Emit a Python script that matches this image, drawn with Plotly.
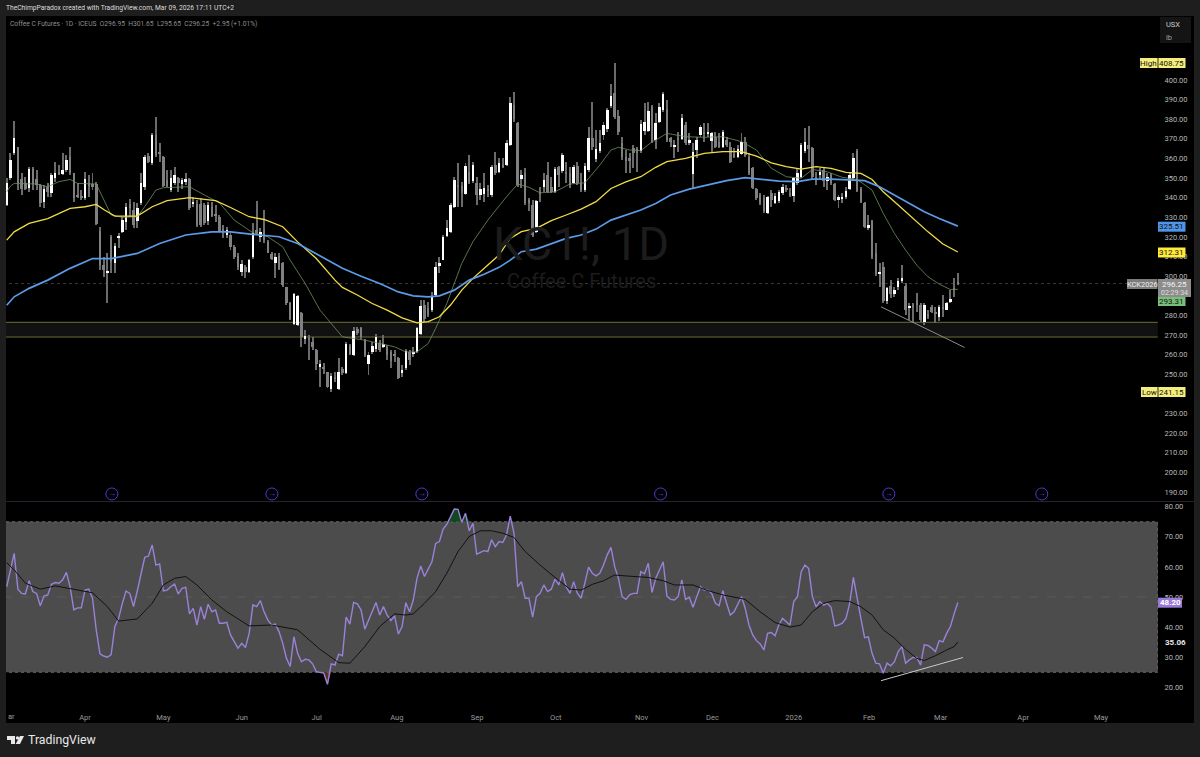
import plotly.graph_objects as go

W, H = 1200, 757

open_ = [336.3,350.2,362.6,365.7,349.5,347.6,345.1,354.4,349.3,346.5,
337.9,345.3,342.5,349.8,353.1,352.1,354.1,360.6,352.4,341.4,
340.9,340.0,347.0,347.0,347.0,323.2,305.6,301.7,319.8,306.8,
319.3,322.6,327.7,336.6,333.7,328.3,337.1,345.3,361.4,357.8,
371.9,362.9,360.6,349.0,343.9,347.3,349.9,347.0,348.5,349.5,
336.6,336.6,336.6,336.3,328.1,335.4,331.7,330.3,324.0,320.9,
320.9,314.7,310.2,301.9,304.8,302.2,309.9,323.5,319.8,323.5,
317.5,311.3,306.8,310.4,306.8,294.3,286.4,275.6,275.0,281.0,
268.1,268.6,266.6,262.3,253.5,253.9,251.0,242.3,248.7,242.3,
252.5,250.5,264.4,259.8,272.9,273.6,267.1,255.2,261.5,262.7,
266.1,263.7,264.0,261.5,260.6,258.1,250.8,253.0,261.5,260.8,
261.5,270.5,285.2,283.6,283.0,290.4,305.3,308.5,320.6,322.7,
335.4,346.3,345.9,341.9,353.2,348.7,347.6,341.4,341.9,344.6,
341.4,356.6,353.2,356.8,356.6,366.8,387.2,377.9,349.5,352.4,
338.8,336.2,322.7,343.0,345.6,351.6,345.6,343.0,355.8,353.8,
353.2,352.4,347.6,356.1,347.6,343.9,354.1,370.2,359.5,364.0,
372.0,374.8,386.7,393.5,381.6,367.7,360.9,360.0,365.1,364.6,
364.0,374.2,374.2,386.4,369.4,378.4,384.7,385.0,370.3,365.7,
370.6,369.7,377.0,368.0,352.0,364.3,372.0,373.7,372.8,369.0,
371.1,368.6,366.0,369.4,366.0,362.3,360.9,362.3,368.6,360.9,
355.0,344.2,341.4,339.7,332.3,342.5,337.4,338.3,342.2,345.0,
342.2,340.8,347.3,350.4,364.0,366.9,365.2,350.4,351.6,354.1,
348.7,351.6,346.8,338.8,339.5,340.2,344.2,349.9,364.0,344.2,
337.1,324.4,328.3,312.0,301.1,304.8,287.5,295.1,290.7,294.6,
298.0,295.1,283.6,285.2,287.8,285.2,276.7,280.5,284.1,281.9,
279.3,284.4,283.0,286.6,294.0,296.95]

high = [349.9,362.9,379.3,365.7,352.4,350.7,355.5,355.8,354.1,347.0,
346.4,347.3,352.4,358.4,356.6,362.6,361.8,365.7,352.4,347.3,
343.9,353.2,351.5,352.4,348.2,325.2,309.9,311.6,320.9,316.7,
322.1,330.3,337.1,339.1,338.0,337.1,352.4,361.8,362.6,372.8,
381.0,367.7,361.2,354.1,354.1,355.8,350.7,349.9,352.4,349.9,
340.2,338.8,339.7,337.1,338.0,338.0,336.3,331.2,326.1,325.2,
321.8,315.9,311.6,308.2,305.6,309.0,326.9,338.5,324.4,333.7,
318.4,312.5,311.6,311.6,307.4,294.6,286.9,291.5,290.4,281.9,
272.5,269.9,269.1,263.1,257.2,256.0,251.3,250.5,251.0,258.1,
253.9,266.5,265.7,273.9,273.9,274.2,267.8,261.5,266.6,270.5,
267.5,270.0,264.9,262.4,262.4,258.9,254.7,262.7,262.4,264.0,
274.2,287.8,288.1,287.0,292.0,307.4,309.9,321.0,328.6,337.1,
350.7,357.5,348.1,357.5,361.7,358.4,350.7,347.3,352.4,346.4,
356.6,363.4,360.0,360.0,369.4,391.5,394.0,378.8,354.1,354.9,
339.7,338.8,338.8,345.6,352.4,358.4,350.7,355.5,356.1,362.6,
358.4,355.8,356.6,358.4,352.4,357.5,376.2,389.0,374.5,374.5,
378.8,385.6,398.0,408.75,384.7,371.0,364.3,362.6,366.9,366.0,
379.6,388.1,389.0,387.2,383.0,388.1,394.0,389.8,371.1,369.4,
373.6,382.7,378.8,372.8,367.7,371.1,377.0,377.9,377.9,373.6,
373.6,372.8,374.5,371.1,368.6,365.2,366.9,372.8,371.1,362.6,
355.5,344.8,342.2,341.4,340.8,343.9,342.2,343.9,347.0,346.4,
344.8,350.7,355.0,367.7,375.4,376.5,365.7,353.2,355.0,355.5,
352.4,352.4,347.3,341.4,342.2,345.6,353.2,362.6,364.6,345.6,
338.0,331.2,328.9,316.7,306.5,307.4,294.6,298.0,294.6,298.9,
305.6,296.3,286.1,286.1,291.2,286.1,286.1,283.0,285.2,284.4,
285.2,290.4,287.0,292.9,299.0,301.65]

low = [336.0,349.0,361.8,343.9,341.4,343.9,343.0,343.9,343.9,335.4,
334.6,340.5,340.5,348.2,351.5,351.5,353.3,351.5,337.9,339.7,
338.8,338.8,340.5,343.9,326.1,303.4,299.7,286.1,301.4,301.4,
314.2,322.1,323.5,330.3,324.4,324.4,336.3,343.9,357.5,356.6,
360.9,358.4,345.3,345.3,343.0,346.4,343.0,344.7,346.4,333.7,
335.4,325.2,325.2,326.1,326.1,330.0,327.7,322.7,319.3,319.3,
313.3,309.0,303.1,300.2,298.9,301.4,309.0,320.9,317.5,316.7,
311.6,308.2,298.9,303.1,294.6,285.2,277.6,275.0,274.5,264.0,
265.7,257.2,262.3,252.1,243.6,250.4,242.8,241.15,246.0,242.0,
249.6,250.0,259.8,259.4,270.0,268.0,258.9,249.6,260.6,261.5,
261.5,263.2,257.3,253.0,256.4,247.4,248.7,252.1,254.7,259.0,
261.0,270.0,276.7,279.3,281.9,289.5,301.4,308.2,320.1,322.1,
334.6,335.4,335.4,341.4,347.0,347.6,336.2,338.8,338.0,340.5,
340.5,351.5,352.4,355.0,356.1,366.3,378.8,345.6,344.8,336.2,
333.0,320.1,322.1,338.0,343.0,342.2,342.2,342.5,345.6,352.4,
347.3,344.8,346.9,346.4,343.0,343.0,353.2,364.3,358.4,362.6,
369.4,373.6,385.6,380.0,372.0,359.2,352.4,352.4,355.0,353.2,
362.6,372.0,373.6,367.7,364.6,377.9,383.9,368.6,366.0,360.0,
363.4,369.4,366.9,366.9,344.8,360.0,371.1,368.6,371.1,363.4,
365.2,365.2,365.2,366.0,357.5,360.0,360.0,361.8,360.9,351.5,
344.2,338.8,336.2,332.3,331.6,335.4,336.8,337.1,341.3,343.0,
340.5,338.0,346.4,349.9,362.6,358.4,349.3,346.4,349.0,345.6,
343.9,346.4,338.5,334.6,337.1,339.1,343.9,349.0,343.0,337.1,
324.4,323.8,309.0,300.1,294.6,286.1,285.8,288.7,289.5,292.9,
296.3,280.2,277.6,275.9,281.9,276.7,275.0,278.0,281.0,275.9,
277.3,279.3,282.7,286.1,289.5,295.65]

close = [347.6,359.2,370.6,347.6,344.7,344.7,354.4,347.0,346.5,337.4,
344.2,343.0,351.5,352.7,352.1,354.1,359.2,352.4,339.7,340.5,
340.2,349.5,345.9,345.6,326.4,305.6,303.1,302.4,307.4,315.3,
320.4,328.6,335.4,334.6,326.1,334.6,347.3,360.6,358.0,371.9,
361.7,362.3,345.9,345.9,349.9,351.5,347.3,349.0,349.5,334.6,
337.9,326.1,326.1,326.9,336.3,330.6,330.8,323.2,322.6,323.5,
314.7,309.9,304.5,306.2,301.9,308.2,322.1,321.8,322.6,318.4,
311.9,309.0,309.9,303.9,295.4,286.4,278.4,290.9,289.8,269.1,
269.4,267.4,263.7,255.2,255.2,253.1,243.6,249.3,248.1,251.3,
250.5,265.4,260.6,272.2,270.9,268.8,259.8,259.8,264.6,268.8,
262.4,265.4,259.8,256.9,259.6,247.9,252.1,262.0,257.3,261.5,
273.4,284.7,278.4,280.2,289.5,304.8,306.8,319.8,324.4,336.2,
349.0,345.6,342.2,356.1,348.1,356.6,341.4,344.2,344.8,343.9,
355.8,352.4,357.5,356.1,367.7,388.4,379.9,346.4,351.5,337.1,
337.4,321.0,338.5,342.2,349.0,343.0,343.0,354.4,351.6,361.8,
352.0,346.4,355.8,347.3,343.9,356.1,370.2,365.7,364.6,368.0,
377.0,384.7,391.8,381.0,373.6,360.9,358.9,359.2,362.6,362.9,
377.6,378.8,384.4,368.5,378.2,386.0,392.9,369.4,368.6,366.9,
369.4,380.5,367.7,369.4,363.4,369.4,376.2,372.8,373.7,372.8,
365.7,366.0,373.3,366.8,358.4,360.9,364.6,368.6,361.8,352.7,
344.8,339.7,337.1,333.4,340.2,338.8,340.8,343.0,345.3,344.2,
341.5,349.9,352.4,366.9,368.2,364.6,350.4,349.3,353.2,348.7,
350.4,347.6,338.8,340.2,340.5,343.6,351.6,360.0,343.6,338.0,
324.9,326.1,309.6,301.1,302.2,287.5,293.8,290.7,292.9,297.5,
298.9,282.7,284.7,284.4,285.2,277.6,285.2,279.7,281.9,281.0,
284.4,283.6,286.1,288.6,293.3,296.25]

rsi = [53.4,59.0,64.5,52.6,51.2,51.0,55.4,51.8,51.2,47.1,
50.3,50.7,54.2,54.8,54.6,55.7,58.2,53.4,45.7,46.4,
46.4,52.3,52.6,49.6,39.1,31.1,30.4,30.0,30.9,40.2,
42.9,47.9,52.0,51.2,46.8,52.0,57.9,63.2,63.6,67.3,
60.6,61.0,52.0,52.3,53.4,54.3,51.0,52.9,53.2,44.4,
46.2,40.7,46.8,42.6,47.6,45.1,45.7,41.3,41.3,41.6,
37.4,35.2,33.0,34.6,33.2,37.9,47.4,46.8,48.8,45.1,
42.4,40.7,41.0,38.5,34.6,29.6,26.9,36.8,31.3,28.5,
29.3,29.1,27.8,25.2,24.9,24.7,21.0,27.8,27.4,31.0,
30.5,43.3,41.0,48.2,47.7,45.7,39.3,42.4,45.5,48.2,
44.0,46.8,44.0,42.2,43.7,37.7,40.2,48.1,45.1,49.0,
56.2,60.3,56.8,59.0,61.7,67.8,68.4,72.6,74.1,76.7,
79.2,79.1,74.8,77.8,72.0,74.5,64.2,64.8,65.4,65.1,
69.0,66.7,68.4,68.1,70.6,76.9,71.2,53.4,55.1,49.6,
49.6,43.3,50.1,51.2,54.0,51.8,52.6,55.9,54.0,58.1,
53.4,51.2,55.1,51.2,49.6,54.6,59.9,57.9,57.0,57.9,
60.6,64.0,66.5,60.1,56.2,50.1,49.2,50.7,51.2,51.2,
58.4,57.7,61.2,51.5,56.2,59.0,61.7,50.3,49.2,49.0,
50.1,55.7,49.2,49.9,46.6,50.1,53.4,52.3,52.3,51.2,
47.9,47.1,52.1,47.9,44.0,45.1,47.4,50.1,46.2,40.7,
37.4,35.5,34.4,32.4,37.9,38.2,37.1,40.7,42.9,41.8,
40.7,48.5,50.1,58.4,60.6,59.5,50.1,46.8,48.5,47.3,
47.9,46.6,40.4,40.7,41.3,42.9,47.9,56.5,49.0,42.9,
36.5,36.8,31.3,28.0,27.8,24.7,28.0,27.1,28.5,31.9,
33.5,28.0,29.1,29.9,29.9,27.4,34.1,33.9,33.0,31.9,
35.5,35.1,37.9,40.2,44.4,48.2]

rsi_ma_x = [0,2,5,9,13,17,23,27,30,35,39,42,45,48,51,55,59,65,71,78,84,89,92,96,100,104,
107,109,112,115,118,121,124,127,130,133,136,139,143,147,151,154,157,160,163,166,172,176,179,184,188,192,196,198,202,206,210,213,
216,219,222,226,229,232,235,238,241,244,246,249,252,254,255]
rsi_ma = [61.4,59.0,54.6,52.6,53.7,52.8,51.4,46.8,42.0,42.7,47.9,54.0,56.2,56.8,54.0,49.0,45.1,40.4,40.7,39.1,32.6,28.2,28.0,33.5,40.2,44.4,
44.0,44.4,47.9,51.8,57.9,65.1,70.1,72.0,72.0,71.2,69.8,65.1,60.6,56.5,52.6,52.3,54.2,55.4,57.3,57.0,56.5,55.4,54.0,54.0,52.1,50.7,49.6,49.2,45.1,41.5,40.0,40.7,
45.1,47.9,48.8,48.5,46.8,44.0,39.1,36.3,32.6,29.6,28.9,30.5,32.4,33.5,35.06]

blue_x = [0,2,6,11,17,23,28,35,41,48,55,60,66,73,78,84,90,95,100,105,109,113,116,120,124,128,132,135,138,142,146,150,154,158,162,166,170,174,
178,183,188,193,198,202,207,212,216,221,226,230,234,238,242,246,250,253,255]
blue_ma = [285.2,289.5,293.8,298.0,304.0,309.0,309.0,311.6,316.7,321.0,322.6,322.6,321.3,320.1,316.7,310.2,304.0,300.0,296.3,292.0,290.0,289.5,290.0,292.9,298.0,301.0,304.5,308.2,312.5,313.8,316.4,319.3,321.0,324.0,328.6,331.2,333.7,337.0,
341.4,344.4,346.4,348.7,350.2,349.3,348.5,348.2,349.5,349.5,349.0,348.7,345.6,341.4,337.1,332.8,329.4,326.9,325.51]

yellow_x = [0,2,6,11,17,21,24,26,29,35,39,43,49,56,60,65,69,74,78,83,88,90,94,98,102,106,110,113,116,119,122,125,129,132,135,138,142,146,150,154,158,162,166,170,174,
177,182,187,192,197,201,205,209,213,217,221,225,229,232,235,239,243,247,251,255]
yellow_ma = [318.4,322.6,326.9,329.4,334.6,335.4,336.6,334.0,330.6,330.6,335.4,338.5,340.0,338.5,335.0,330.3,328.9,325.2,317.5,309.0,298.0,294.3,290.4,286.1,282.7,278.8,276.2,276.8,279.3,285.3,292.9,298.9,305.7,310.8,319.3,322.7,324.4,328.3,331.2,334.2,338.0,344.7,348.1,350.7,355.5,
358.4,360.0,362.6,363.5,363.5,361.2,357.8,355.8,354.6,355.8,355.0,352.9,352.4,349.3,343.0,336.3,329.4,322.6,316.4,312.31]

green_x = [0,1,2,5,8,11,14,17,19,24,26,28,31,35,37,40,42,49,53,57,61,66,70,74,76,80,84,88,90,96,104,107,110,113,115,118,120,122,125,129,134,137,140,143,147,151,155,159,162,164,167,170,173,
174,177,182,187,192,197,201,205,209,213,216,220,224,228,232,235,238,241,244,247,250,253,255]
green_ma = [343.0,345.9,347.3,347.0,347.0,345.6,348.2,349.3,347.3,347.0,338.8,331.2,330.0,330.3,335.4,343.9,345.1,345.6,341.4,337.4,328.6,322.1,320.1,315.0,308.2,296.3,282.7,273.4,269.1,267.4,264.0,261.4,261.4,265.7,273.4,286.1,296.3,306.5,317.6,328.6,340.5,347.0,345.3,342.5,343.0,347.0,347.6,356.6,364.3,365.7,364.3,364.0,368.5,
369.4,372.8,371.1,370.8,371.1,368.6,364.3,355.0,350.7,349.9,354.4,353.2,350.4,349.3,343.9,332.0,321.8,313.3,305.6,299.7,296.0,293.2,293.31]

month_x = [21.0,42.0,63.0,83.1,104.6,126.1,147.2,170.2,189.2,211.0,231.2,250.4,272.5,293.4]
month_labels = ["Apr","May","Jun","Jul","Aug","Sep","Oct","Nov","Dec","2026","Feb","Mar","Apr","May"]
event_x = [28.2,71.1,111.3,175.3,236.5,277.5]
# 240 and 290 sit fully behind the Low and 293.31 tags
price_ticks = [190,200,210,220,230,250,260,270,280,300,310,320,330,340,350,360,370,380,390,400]
rsi_ticks = [20,30,40,50,60,70,80]

BG = "#1e1e1e"
TICK = "#b8b8b8"
FONT = "Roboto"


def fx(px):
    return px / W


def fy(py):
    return 1 - py / H


idx = list(range(len(close)))
body_col = ["#ffffff" if c >= o else "#808080" for o, c in zip(open_, close)]
body_h = [abs(c - o) for o, c in zip(open_, close)]
body_b = [min(o, c) for o, c in zip(open_, close)]

fig = go.Figure()
# wicks and bodies are both bars so the bodies stay on top of the wicks
fig.add_trace(go.Bar(x=idx, y=[h - l for h, l in zip(high, low)], base=low, width=0.26,
                     marker=dict(color="#6b6b6b", line_width=0), yaxis="y"))
fig.add_trace(go.Bar(x=idx, y=body_h, base=body_b, width=0.68,
                     marker=dict(color=body_col, line_width=0), yaxis="y"))
fig.add_trace(go.Scatter(x=green_x, y=green_ma, mode="lines", line=dict(color="#6f9160", width=0.8), yaxis="y"))
fig.add_trace(go.Scatter(x=yellow_x, y=yellow_ma, mode="lines", line=dict(color="#f2dc45", width=1.3), yaxis="y"))
fig.add_trace(go.Scatter(x=blue_x, y=blue_ma, mode="lines", line=dict(color="#5b9be8", width=1.7), yaxis="y"))
fig.add_trace(go.Scatter(x=event_x, y=[189] * len(event_x), mode="markers+text", text=["→"] * len(event_x),
                         textposition="middle center", textfont=dict(color="#6a4ee0", size=8, family=FONT),
                         marker=dict(symbol="circle-open", size=12, color="#5238d0", line_width=1),
                         cliponaxis=False, yaxis="y"))

# overbought / oversold fills of the RSI
ob = [i for i in idx if 118 <= i <= 125]
fig.add_trace(go.Scatter(x=ob, y=[75] * len(ob), mode="lines", line_width=0, yaxis="y2"))
fig.add_trace(go.Scatter(x=ob, y=[max(rsi[i], 75) for i in ob], mode="lines", line_width=0, fill="tonexty",
                         fillcolor="rgba(20,90,40,0.8)", yaxis="y2"))
os_ = [i for i in idx if 83 <= i <= 87]
fig.add_trace(go.Scatter(x=os_, y=[25] * len(os_), mode="lines", line_width=0, yaxis="y2"))
fig.add_trace(go.Scatter(x=os_, y=[min(rsi[i], 25) for i in os_], mode="lines", line_width=0, fill="tonexty",
                         fillcolor="rgba(170,100,70,0.5)", yaxis="y2"))

fig.add_trace(go.Scatter(x=idx, y=rsi, mode="lines", line=dict(color="#9a82d8", width=1.4), yaxis="y2"))
fig.add_trace(go.Scatter(x=rsi_ma_x, y=rsi_ma, mode="lines", line=dict(color="#111111", width=1), yaxis="y2"))

shapes = [
    # black chart canvas and dark frame
    dict(type="rect", xref="paper", yref="paper", x0=fx(6), x1=fx(1194), y0=fy(723), y1=fy(16),
         fillcolor="#000000", line_width=0, layer="below"),
    # support zone
    dict(type="rect", xref="x", yref="y", x0=-1, x1=308.6, y0=269.0, y1=276.5,
         fillcolor="#111111", line_width=0, layer="below"),
    dict(type="line", xref="x", yref="y", x0=-1, x1=308.6, y0=269.0, y1=269.0,
         line=dict(color="#6f6d35", width=1), layer="below"),
    dict(type="line", xref="x", yref="y", x0=-1, x1=308.6, y0=276.5, y1=276.5,
         line=dict(color="#6f6d35", width=1), layer="below"),
    # last price
    dict(type="line", xref="x", yref="y", x0=-1, x1=308.6, y0=296.25, y1=296.25,
         line=dict(color="#3a3a3a", width=1, dash="dot"), layer="below"),
    # RSI band
    dict(type="rect", xref="x", yref="y2", x0=-1, x1=308.6, y0=25, y1=75,
         fillcolor="#4c4c4c", line=dict(color="#6a6a6a", width=1, dash="dot"), layer="below"),
    dict(type="line", xref="x", yref="y2", x0=-1, x1=308.6, y0=50, y1=50,
         line=dict(color="#5a5a5a", width=1, dash="dash"), layer="below"),
    # pane separator
    dict(type="line", xref="paper", yref="paper", x0=fx(6), x1=fx(1194), y0=fy(501.5), y1=fy(501.5),
         line=dict(color="#262233", width=1)),
    # trendlines
    dict(type="line", xref="x", yref="y", x0=234.4, x1=256.8, y0=284.4, y1=263.7,
         line=dict(color="#8c8c8c", width=1)),
    dict(type="line", xref="x", yref="y2", x0=234.4, x1=256.4, y0=22.2, y1=29.9,
         line=dict(color="#c8c8c8", width=1)),
]

annotations = []


def text(x, y, s, color=TICK, size=8, anchor="center", bold=False):
    annotations.append(dict(xref="paper", yref="paper", x=fx(x), y=fy(y), text=f"<b>{s}</b>" if bold else s,
                            showarrow=False, xanchor=anchor, yanchor="middle",
                            font=dict(color=color, size=size, family=FONT)))


def tag(x0, x1, y, h, s, bg, fg="#111111", size=8, bold=False):
    shapes.append(dict(type="rect", xref="paper", yref="paper", x0=fx(x0), x1=fx(x1),
                       y0=fy(y + h / 2), y1=fy(y - h / 2), fillcolor=bg, line_width=0))
    if s:
        text((x0 + x1) / 2, y, s, fg, size, bold=bold)


# header and legend line
text(4, 8, "TheChimpParadox created with TradingView.com, Mar 09, 2026 17:11 UTC+2", "#dcdcdc", 6.7, "left")
text(8, 23.5, "Coffee C Futures · 1D · ICEUS  O296.95  H301.65  L295.65  C296.25  +2.95 (+1.01%)", "#8e8e8e", 6.7, "left")

# watermark
text(581, 243, "KC1!, 1D", "#1c1c1c", 47)
text(581, 281, "Coffee C Futures", "#1c1c1c", 20)

# currency box
tag(1160, 1191, 30, 26, "", "#141414")
text(1164, 24, "USX", "#c8c8c8", 7.5, "left")
text(1164, 38, "lb", "#a0a0a0", 7.5, "left")

# price tags
tag(1140, 1157.6, 63, 10, "High", "#f6ee7c")
tag(1158.4, 1185.5, 63, 10, "408.75", "#f6ee7c")
tag(1141, 1157.6, 392, 10, "Low", "#f6ee7c")
tag(1158.4, 1185.5, 392, 10, "241.15", "#f6ee7c")
tag(1158, 1185.5, 226.7, 10, "325.51", "#4f95ea")
tag(1158, 1185.5, 252.5, 10, "312.31", "#ffe93b")
tag(1158, 1185.5, 301, 10, "293.31", "#78c07a")
tag(1127, 1157.5, 284, 10, "KCK2026", "#7c7c7c", "#f0f0f0", 7.4)
tag(1158, 1191, 288, 18, "", "#8c8c8c")
text(1174, 284, "296.25", "#f4f4f4", 8)
text(1174, 292.5, "02:29:34", "#dedede", 7)
tag(1158, 1182, 602.7, 10, "48.20", "#9a7ad8", "#ffffff", 8, True)
text(1163, 642, "35.06", "#e8e8e8", 8, "left", True)

# clipped first month label
text(6, 716, "ar", "#9a9a9a", 7.5, "left")

# TradingView logo
def pth(pts):
    return "M" + " L".join(f"{fx(a)},{fy(b)}" for a, b in pts) + " Z"


for p in ([(7, 736), (15, 736), (15, 744), (11, 744), (11, 740), (7, 740)],
          [(20, 736), (24, 736), (20, 744), (15.7, 744)]):
    shapes.append(dict(type="path", xref="paper", yref="paper", path=pth(p), fillcolor="#e8e8e8", line_width=0))
shapes.append(dict(type="circle", xref="paper", yref="paper", x0=fx(15.8), x1=fx(19.2), y0=fy(739.6), y1=fy(736.2),
                   fillcolor="#e8e8e8", line_width=0))
text(26, 740, "TradingView", "#e8e8e8", 12.3, "left")

# x: pixel 6 to 1158 at 3.73 px per bar, y: 1.962 px per point above, 3.01 px per point below
fig.update_layout(
    width=W, height=H, margin=dict(l=0, r=0, t=0, b=0), paper_bgcolor=BG, plot_bgcolor="rgba(0,0,0,0)",
    showlegend=False, barmode="overlay", bargap=0, shapes=shapes, annotations=annotations,
    hovermode=False, font=dict(family=FONT, color=TICK, size=8),
    xaxis=dict(domain=[fx(6), fx(1158)], range=[-0.19, 308.66], anchor="y2", showgrid=False, zeroline=False,
               showline=False, tickmode="array", tickvals=month_x, ticktext=month_labels,
               tickfont=dict(size=7.5, color="#9a9a9a", family=FONT), ticks="outside", ticklen=3,
               tickcolor="rgba(0,0,0,0)"),
    yaxis=dict(domain=[fy(501), fy(16)], range=[400 - (501 - 80) / 1.962, 400 + (80 - 16) / 1.962], side="right",
               anchor="x", showgrid=False, zeroline=False, showline=False, tickmode="array", tickvals=price_ticks,
               ticktext=[f"{t:.2f}" for t in price_ticks], tickfont=dict(size=7.5, color=TICK, family=FONT),
               ticks="outside", ticklen=4, tickcolor="rgba(0,0,0,0)"),
    yaxis2=dict(domain=[fy(707), fy(502)], range=[80 - (707 - 506.7) / 3.01, 80 + (506.7 - 502) / 3.01], side="right",
                anchor="x", showgrid=False, zeroline=False, showline=False, tickmode="array", tickvals=rsi_ticks,
                ticktext=[f"{t:.2f}" for t in rsi_ticks], tickfont=dict(size=7.5, color=TICK, family=FONT),
                ticks="outside", ticklen=4, tickcolor="rgba(0,0,0,0)"),
)

# the browser's default body margin would push the chart 8px off
fig.write_html("out.html", config={"displayModeBar": False}, post_script="document.body.style.margin='0';")
